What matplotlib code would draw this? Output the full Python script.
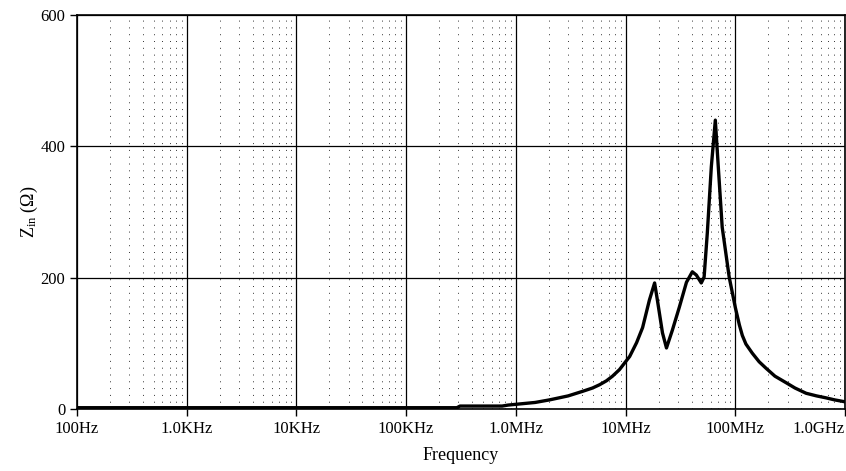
import numpy as np
import matplotlib
matplotlib.use("Agg")
import matplotlib.pyplot as plt
from matplotlib.ticker import FixedLocator, NullFormatter

# input impedance vs frequency
freq = [100, 1e3, 1e4, 1e5, 2.9e5, 3.1e5, 7.5e5, 8.5e5, 1.05e6, 1.5e6, 2.04e6, 3.0e6,
        4.07e6, 5.0e6, 5.8e6, 6.7e6, 7.6e6, 8.8e6, 1.0e7, 1.09e7, 1.26e7, 1.43e7,
        1.65e7, 1.84e7, 1.95e7, 2.17e7, 2.36e7, 2.67e7, 3.09e7, 3.59e7, 4.06e7, 4.42e7,
        4.9e7, 5.2e7, 5.56e7, 6.05e7, 6.58e7, 7.0e7, 7.6e7, 8.8e7, 1.0e8, 1.09e8,
        1.16e8, 1.25e8, 1.43e8, 1.65e8, 1.91e8, 2.3e8, 2.91e8, 3.5e8, 4.42e8, 5.5e8,
        6.72e8, 8.0e8, 1.0e9]
zin = [2, 2, 2, 2, 2, 4.5, 4.5, 6, 7.5, 10, 14, 20,
       27, 32, 37, 43, 50, 60, 72, 80, 101, 124,
       166, 192, 166, 116, 93, 120, 155, 193, 209, 204,
       192, 201, 268, 369, 440, 369, 277, 201, 155, 128,
       112, 99, 85, 72, 62, 50, 40, 32, 24, 20,
       17, 14, 11]

xtick_vals = [1e2, 1e3, 1e4, 1e5, 1e6, 1e7, 1e8, 1e9]
xtick_labels = ['100Hz', '1.0KHz', '10KHz', '100KHz', '1.0MHz', '10MHz', '100MHz', '1.0GHz']
ytick_vals = [0, 200, 400, 600]

plt.rcParams['font.family'] = ['Liberation Serif', 'DejaVu Serif']
plt.rcParams['mathtext.fontset'] = 'custom'
plt.rcParams['mathtext.rm'] = 'Liberation Serif'
plt.rcParams['mathtext.it'] = 'Liberation Serif:italic'

fig = plt.figure(figsize=(8.46, 4.71), dpi=100)
ax = fig.add_axes([0.091, 0.1316, 0.9078, 0.8364])

ax.plot(freq, zin, color='black', lw=2.4, solid_joinstyle='round', zorder=3)

ax.set_xscale('log')
ax.set_xlim(100, 1e9)
ax.set_ylim(0, 600)

ax.xaxis.set_major_locator(FixedLocator(xtick_vals))
ax.set_xticklabels(xtick_labels)
minors = [m * 10 ** d for d in range(2, 9) for m in range(2, 10)]
ax.xaxis.set_minor_locator(FixedLocator(minors))
ax.xaxis.set_minor_formatter(NullFormatter())
ax.set_yticks(ytick_vals)
ax.get_xticklabels()[-1].set_horizontalalignment('right')

ax.grid(which='major', color='black', lw=0.9)
ax.grid(which='minor', axis='x', color='#333333', lw=0.7, linestyle=(0, (1, 6)))
ax.tick_params(which='major', direction='out', length=5, width=1, labelsize=12, colors='black')
ax.tick_params(which='minor', length=0)

for s in ax.spines.values():
    s.set_linewidth(1.2)
    s.set_color('black')

ax.set_xlabel('Frequency', fontsize=13, labelpad=7)
ax.set_ylabel(r'Z$_{\rm in}$ ($\Omega$)', fontsize=13, labelpad=0)

fig.savefig('out.png', dpi=100)
